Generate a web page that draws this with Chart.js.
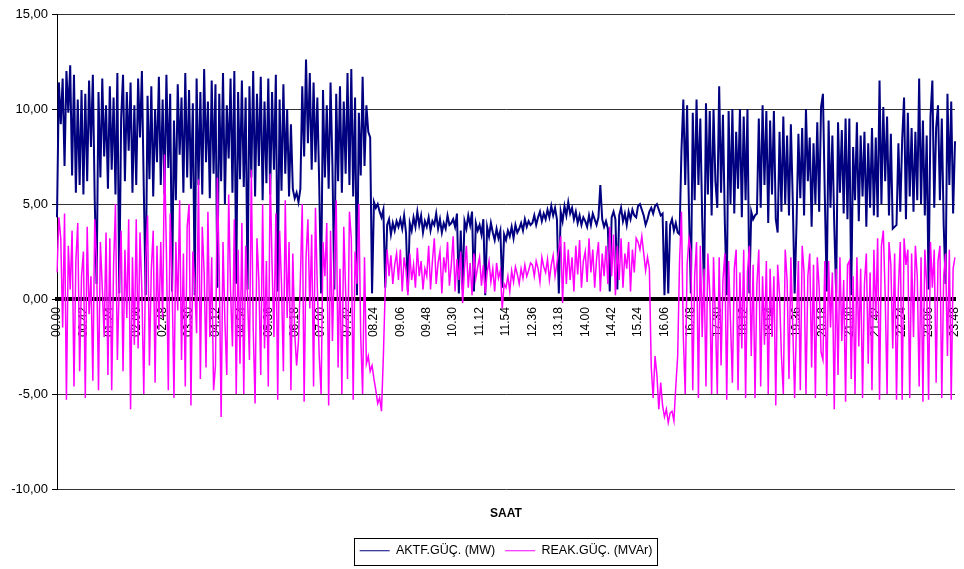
<!DOCTYPE html>
<html>
<head>
<meta charset="utf-8">
<script src="https://cdn.jsdelivr.net/npm/chart.js@4/dist/chart.umd.min.js"></script>
<style>
  html, body { margin: 0; padding: 0; background: #fff; }
  #wrap { width: 964px; height: 569px; }
</style>
</head>
<body>
<div id="wrap"><canvas id="powerChart" width="964" height="569"></canvas></div>
<script>
// readings every 3 minutes, 00.00 .. 23.48 (477 per series)
const tickLabels = [
  '00.00', '00.42', '01.24', '02.06', '02.48', '03.30', '04.12', '04.54', '05.36',
  '06.18', '07.00', '07.42', '08.24', '09.06', '09.48', '10.30', '11.12', '11.54',
  '12.36', '13.18', '14.00', '14.42', '15.24', '16.06', '16.48', '17.30', '18.12',
  '18.54', '19.36', '20.18', '21.00', '21.42', '22.24', '23.06', '23.48'
];
const TICK_EVERY = 14;

// one row = 42 minutes
const aktifGuc = [
  4.3, 11.4, 9.2, 11.6, 7.0, 12.0, 9.8, 12.3, 6.5, 11.8, 5.6, 10.5, 6.0, 11.0,
  5.5, 10.8, 6.2, 11.5, 8.0, 11.8, 5.2, 0.8, 10.9, 6.4, 11.6, 7.5, 10.2, 5.8,
  11.2, 6.8, 10.6, 5.5, 11.9, 0.3, 9.5, 11.8, 6.2, 10.9, 7.8, 11.4, 5.6, 10.2,
  6.0, 11.6, 8.5, 12.0, 5.8, 0.2, 10.7, 6.3, 11.2, 5.4, 10.0, 7.2, 11.7, 6.0,
  10.5, 5.5, 11.8, 6.9, 10.8, 0.4, 9.4, 5.2, 11.3, 7.6, 10.6, 5.6, 11.9, 6.4,
  11.0, 5.8, 10.3, 0.2, 11.6, 6.0, 10.9, 5.5, 12.1, 7.2, 10.4, 5.3, 11.5, 6.6,
  11.3, 0.6, 10.8, 6.2, 11.9, 5.0, 10.2, 7.4, 11.6, 5.6, 12.0, 0.8, 10.9, 6.3,
  11.5, 5.9, 10.6, 0.5, 11.2, 6.4, 12.0, 5.4, 10.8, 7.0, 11.7, 5.2, 10.4, 6.1,
  11.6, 5.5, 10.9, 6.8, 11.8, 0.4, 10.5, 5.7, 11.3, 6.6, 10.0, 5.4, 9.2, 5.8,
  5.3, 5.6, 5.1, 5.8, 11.2, 7.5, 12.6, 8.2, 11.9, 6.8, 11.4, 7.2, 10.6, 6.0,
  0.3, 11.0, 6.4, 10.2, 5.8, 11.4, 7.0, 0.5, 10.8, 6.2, 11.2, 5.6, 10.4, 6.6,
  11.9, 6.0, 12.1, 5.4, 10.6, 0.2, 9.8, 6.5, 11.7, 7.0, 10.2, 8.8, 8.5, 0.3,
  5.1, 4.8, 5.0, 4.6, 4.3, 4.7, 0.6, 3.9, 4.2, 3.4, 4.0, 3.6, 4.1, 3.8,
  4.2, 3.7, 4.4, 3.5, 0.4, 4.0, 3.6, 4.3, 3.8, 4.6, 3.9, 4.4, 3.5, 4.1,
  3.8, 4.3, 3.6, 4.1, 3.9, 4.5, 3.7, 4.2, 3.5, 4.0, 3.7, 4.4, 3.9, 4.0,
  4.2, 3.8, 4.5, 0.3, 3.6, 0.5, 4.1, 3.7, 4.4, 3.9, 4.6, 0.4, 4.0, 3.6,
  3.9, 3.4, 4.2, 0.2, 3.8, 3.3, 4.0, 3.5, 3.1, 3.7, 3.2, 3.6, 0.6, 3.4,
  3.1, 3.6, 3.3, 3.8, 3.2, 3.9, 3.5, 3.7, 4.0, 3.6, 4.2, 3.8, 4.1, 3.9,
  4.0, 4.4, 3.9, 4.3, 4.6, 4.1, 4.5, 4.2, 4.7, 4.3, 4.9, 4.4, 4.8, 4.2,
  0.3, 4.6, 4.1, 4.9, 4.4, 5.1, 4.5, 4.8, 4.2, 4.6, 4.0, 4.4, 3.9, 4.3,
  4.1, 3.8, 4.4, 3.9, 4.5, 4.2, 3.9, 4.3, 6.0, 4.2, 3.8, 4.1, 3.7, 0.4,
  4.3, 4.6, 4.2, 0.5, 4.4, 4.8, 4.1, 4.5, 3.9, 4.6, 4.2, 4.7, 4.4, 4.3,
  4.9, 5.0, 4.7, 4.4, 3.9, 4.2, 4.6, 4.8, 4.5, 4.9, 5.0, 4.7, 4.4, 4.5,
  0.2, 4.1, 0.3, 3.9, 4.2, 3.6, 4.0, 3.5, 3.4, 7.8, 10.5, 6.0, 10.2, 4.6,
  0.3, 9.8, 5.2, 10.5, 6.0, 9.5, 4.2, 0.4, 10.3, 5.5, 9.9, 4.4, 10.0, 6.2,
  4.8, 11.2, 5.6, 9.7, 4.0, 0.2, 9.9, 5.0, 10.0, 4.5, 8.8, 5.8, 10.0, 4.3,
  9.6, 5.2, 10.0, 0.3, 4.6, 4.2, 4.4, 4.5, 9.5, 4.8, 10.2, 6.0, 9.9, 4.0,
  9.4, 5.5, 9.9, 4.2, 3.5, 8.8, 4.6, 9.6, 5.0, 8.6, 4.4, 9.2, 5.2, 0.3,
  4.0, 8.7, 5.3, 9.0, 4.4, 10.0, 6.2, 8.5, 3.8, 8.2, 5.0, 9.3, 4.6, 10.1,
  10.8, 5.4, 0.4, 9.4, 4.8, 8.6, 3.9, 0.3, 9.3, 5.6, 8.9, 4.5, 9.5, 4.2,
  9.5, 0.2, 8.0, 5.2, 9.3, 4.1, 8.6, 5.4, 8.8, 3.8, 8.2, 4.8, 9.0, 4.4,
  8.5, 4.3, 11.5, 5.0, 10.1, 6.2, 9.6, 4.4, 8.7, 3.7, 3.8, 3.9, 8.2, 4.6,
  8.4, 10.6, 4.2, 9.8, 5.4, 9.0, 4.6, 8.8, 5.2, 11.6, 5.0, 9.4, 4.4, 8.6,
  0.5, 9.6, 11.5, 4.8, 9.0, 10.2, 5.2, 9.5, 3.9, 0.8, 10.8, 6.0, 10.4, 4.5,
  8.3
];

const reaktifGuc = [
  1.4, 4.3, 3.2, -1.5, 4.5, -5.3, 2.8, 0.5, 3.6, -4.6, 2.0, 4.0, -3.8, 1.2,
  2.5, -5.2, 3.8, -0.8, 1.2, -4.3, 4.2, 2.0, -4.8, 3.0, 0.6, -2.0, 3.5, -4.0,
  3.2, -4.8, 1.8, 5.0, -3.2, 0.8, 3.6, -3.8, 2.6, -1.0, 4.2, -5.8, 2.2, -2.4,
  4.2, -2.6, 3.5, 0.4, -5.0, 2.0, 4.4, -3.5, 1.6, 3.6, -4.4, 2.8, -1.6, 3.0,
  -1.0, 7.6, 2.5, -4.8, 4.5, 1.0, -5.2, 3.0, -0.6, 5.2, -3.2, 2.4, -4.6, 3.8,
  5.0, -5.6, 2.5, 0.8, -1.8, 6.3, -4.2, 3.8, 1.4, -3.6, 4.6, -2.0, 2.2, -4.8,
  -3.5, 6.4, 1.5, -6.2, 3.0, -1.2, -4.0, 5.5, 0.4, -2.5, 4.2, -5.0, 2.6, -3.4,
  4.0, -5.0, 2.8, 0.2, -3.2, 6.8, -1.5, -5.5, 3.2, 1.0, -4.0, 5.0, -2.6, 2.0,
  -4.6, 6.6, 1.8, -2.0, 4.5, -5.3, 3.6, 0.8, -3.8, 5.2, -1.0, 3.0, -4.8, 2.4,
  -1.8, -3.5, -2.2, 1.0, 5.0, -5.4, 2.2, 4.2, -0.5, 3.4, -4.6, 4.8, 0.6, -3.0,
  -5.0, 3.0, 1.2, 4.0, -5.6, 3.6, -2.2, 2.0, 5.2, -3.6, 1.6, -5.0, 3.8, 0.4,
  -4.2, 4.6, 3.2, -5.3, 2.5, 0.8, 5.0, -2.0, -5.0, 2.2, -3.4, -3.0, -3.8, -3.5,
  -4.2, -4.8, -5.5, -5.2, -5.9, -3.0, 0.6, 2.6, 1.2, 2.3, 0.8, 1.8, 2.4, 1.0,
  2.6, 0.4, 2.2, 1.5, 0.2, 2.4, 1.0, 1.8, 0.6, 2.7, 1.2, 2.0, 0.5, 1.6,
  1.2, 2.8, 0.5, 2.0, 3.2, 0.8, 1.9, 2.5, 0.3, 2.2, 1.4, 3.0, 0.7, 1.8,
  3.3, 0.4, 2.1, 1.0, 2.5, -0.2, 1.6, 2.8, 0.6, 1.9, 0.2, 2.4, 1.1, 1.7,
  2.2, 0.7, 1.8, 0.3, 1.4, 2.0, 0.9, 1.6, 0.4, 1.9, 1.1, 1.5, -0.5, 0.8,
  0.6, 1.2, 0.4, 1.5, 0.9, 1.7, 1.3, 0.8, 1.6, 1.1, 1.8, 1.2, 1.5, 1.9,
  1.8, 1.2, 2.0, 1.6, 0.9, 2.2, 1.7, 1.4, 2.1, 1.0, 1.8, 2.3, 1.2, 1.9,
  2.6, 3.3, -0.2, 3.0, 0.8, 2.6, 1.0, 2.2, 0.4, 2.8, 1.3, 3.1, 0.6, 2.0,
  2.5, 0.9, 3.2, 1.4, 2.6, 0.6, 2.1, 3.0, 0.4, 2.4, 1.2, 2.8, 0.8, 3.8,
  1.2, 3.4, 0.2, 2.8, 1.0, 3.2, 0.6, 2.4, 1.6, 3.0, 0.4, 2.6, 1.4, 3.2,
  3.0, 2.6, 3.3, 2.4, 1.5, 2.2, 1.6, -3.6, -5.2, -3.0, -4.0, -5.8, -4.4, -5.6,
  -6.2, -5.8, -6.5, -6.0, -5.9, -6.4, -4.6, -3.0, 2.0, 4.6, -2.0, -5.0, 1.8, 3.2,
  2.5, -4.8, 1.2, 3.0, -5.2, 2.8, -2.0, 1.6, -4.6, 2.4, 0.4, -5.0, 2.2, -1.0,
  -5.0, 2.2, -3.5, 1.0, 2.4, -5.3, 2.0, -1.2, -4.4, 1.6, 2.6, -4.8, 1.4, -2.6,
  2.6, -5.2, 1.4, 2.8, -3.0, 1.8, -5.2, 0.8, 2.6, -4.6, 1.2, -2.4, 2.0, -5.0,
  1.6, -2.0, 1.2, -5.6, 1.8, 0.2, -3.0, -5.0, 2.6, 1.0, -4.2, 2.2, -1.4, -5.2,
  -1.2, 2.0, -4.8, 2.8, 1.4, -5.0, 1.2, 2.4, -3.6, 1.8, -5.2, 2.2, 0.6, -2.8,
  -3.2, 2.0, -5.1, 2.0, -1.5, 1.4, -5.8, 1.6, -4.0, 2.2, -2.2, 1.0, -5.4, 1.8,
  2.0, -4.2, 1.2, -5.0, 2.2, -2.5, 1.6, -5.2, 0.8, 2.4, -3.4, 1.4, -4.8, 2.6,
  -1.0, 3.2, -5.3, 2.8, 3.6, 0.2, -5.0, 3.0, 1.8, -2.6, 2.4, -5.3, 0.6, 3.0,
  -5.3, 3.2, 1.8, 2.6, -5.2, 2.4, -2.0, 2.8, 1.2, -4.6, 2.2, -5.4, 2.6, 0.8,
  -5.3, 3.0, 0.6, 2.6, -4.4, 2.0, 2.8, -5.2, 1.2, 2.4, -3.0, 2.6, -5.3, 1.6,
  2.2
];

const yTicks = [-10, -5, 0, 5, 10, 15];

// one category per reading, only every 14th gets a visible label
const categories = aktifGuc.map((v, i) => i);

const FONT = '"Liberation Sans", Arial, sans-serif';

// thin frame around the legend like the excel one
const legendFrame = {
  id: 'legendFrame',
  afterDraw(chart) {
    const boxes = chart.legend && chart.legend.legendHitBoxes;
    if (!boxes || !boxes.length) return;
    const ctx = chart.ctx;
    const left = Math.min(...boxes.map(b => b.left)) - 6;
    const right = Math.max(...boxes.map(b => b.left + b.width)) + 4;
    const top = boxes[0].top - 7;
    const bottom = boxes[0].top + boxes[0].height + 7;
    ctx.save();
    ctx.strokeStyle = '#000';
    ctx.lineWidth = 1;
    ctx.strokeRect(Math.round(left) + 0.5, Math.round(top) + 0.5, Math.round(right - left), Math.round(bottom - top));
    ctx.restore();
  }
};

const ctx = document.getElementById('powerChart').getContext('2d');
new Chart(ctx, {
  type: 'line',
  data: {
    labels: categories,
    datasets: [
      {
        label: 'AKTF.GÜÇ. (MW)',
        data: aktifGuc,
        borderColor: '#000080',
        backgroundColor: '#000080',
        borderWidth: 2,
        pointRadius: 0,
        tension: 0,
        order: 1
      },
      {
        label: 'REAK.GÜÇ. (MVAr)',
        data: reaktifGuc,
        borderColor: '#ff00ff',
        backgroundColor: '#ff00ff',
        borderWidth: 1.5,
        pointRadius: 0,
        tension: 0,
        order: 0
      }
    ]
  },
  options: {
    responsive: false,
    animation: false,
    layout: { padding: { top: 14, right: 9, left: 0, bottom: 2 } },
    plugins: {
      tooltip: { enabled: false },
      title: {
        display: true,
        text: 'SAAT',
        position: 'bottom',
        fullSize: false,
        weight: 500,
        color: '#000',
        font: { family: FONT, size: 12, weight: 'bold' },
        padding: { top: 17, bottom: 14 }
      },
      legend: {
        position: 'bottom',
        fullSize: false,
        labels: {
          color: '#000',
          font: { family: FONT, size: 12.5 },
          boxWidth: 30,
          boxHeight: 1,
          padding: 10,
          sort: (a, b) => a.datasetIndex - b.datasetIndex,
          generateLabels: chart => Chart.defaults.plugins.legend.labels.generateLabels(chart)
            .map(item => Object.assign(item, { lineWidth: 0 }))
        }
      }
    },
    scales: {
      x: {
        type: 'category',
        position: { y: 0 },
        offset: false,
        afterFit: scale => { scale.paddingLeft = 0; scale.paddingRight = 0; },
        grid: { display: false, drawTicks: false },
        border: { display: true, color: '#000', width: 4 },
        ticks: {
          autoSkip: false,
          maxRotation: 90,
          minRotation: 90,
          padding: 8,
          color: '#000',
          font: { family: FONT, size: 12 },
          callback: (val, i) => (i % TICK_EVERY === 0 ? tickLabels[i / TICK_EVERY] : null)
        }
      },
      y: {
        min: yTicks[0],
        max: yTicks[yTicks.length - 1],
        afterBuildTicks: scale => { scale.ticks = yTicks.map(v => ({ value: v })); },
        afterFit: scale => { scale.width = 57; },
        grid: { color: '#333', lineWidth: 1, drawTicks: true, tickLength: 5, tickColor: '#000' },
        border: { display: true, color: '#000', width: 1 },
        ticks: {
          padding: 4,
          color: '#000',
          font: { family: FONT, size: 13 },
          callback: v => v.toFixed(2).replace('.', ',')
        }
      }
    }
  },
  plugins: [legendFrame]
});
</script>
</body>
</html>
